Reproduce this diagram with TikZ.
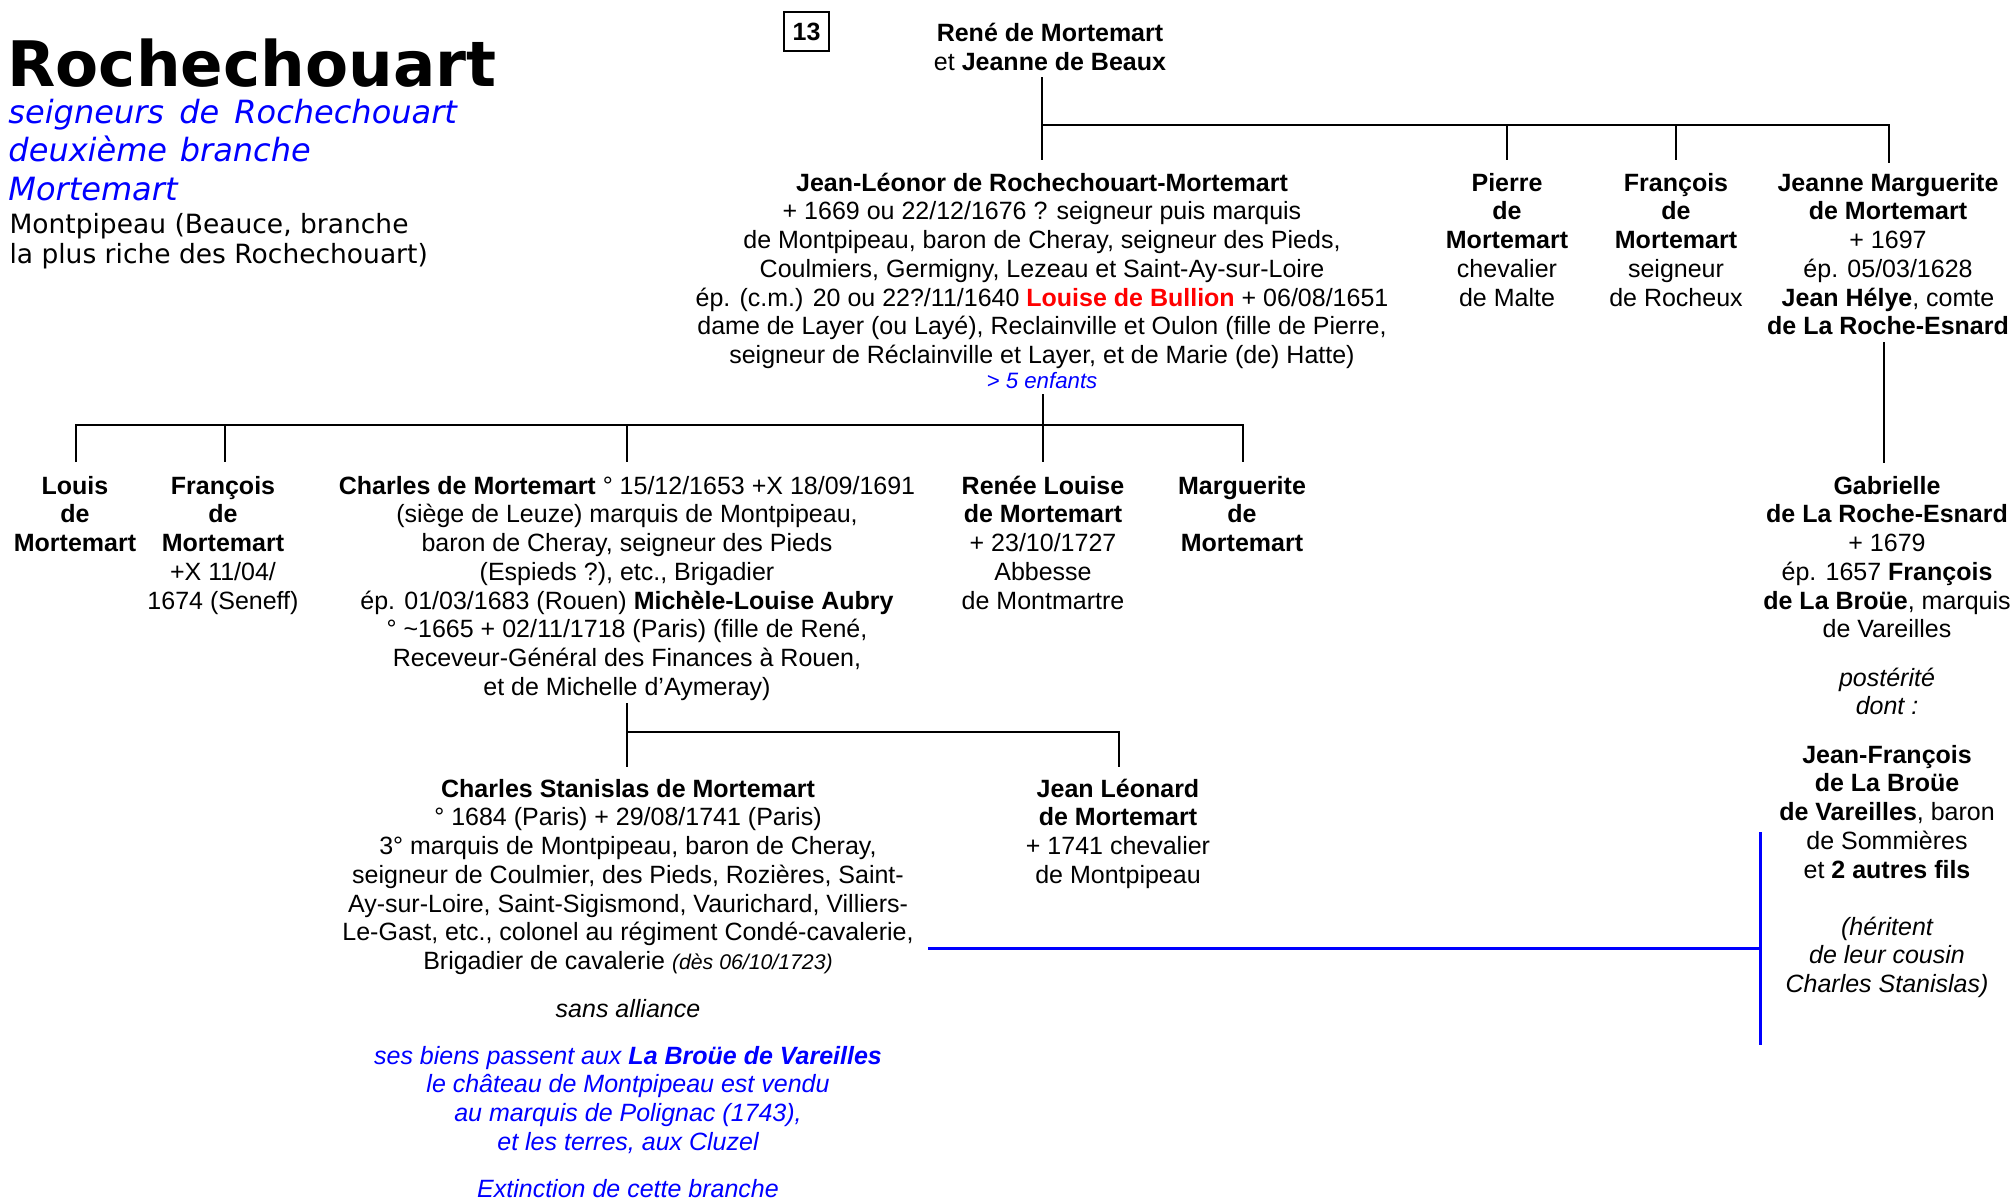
\documentclass[tikz,border=0pt]{standalone}
\usepackage{fontspec}
\setmainfont{Liberation Sans}
\newfontfamily\verd{DejaVu Sans}
\begin{document}
\begin{tikzpicture}[x=0.4pt,y=-0.4pt,
  txt/.style={align=center, anchor=base, inner sep=0pt, font=\fontsize{10}{11.5}\selectfont},
  small/.style={align=center, anchor=base, inner sep=0pt, font=\fontsize{8.9}{11.5}\selectfont\itshape},
  conn/.style={line width=1pt, black},
  bconn/.style={line width=1.2pt, blue},
]
\useasboundingbox (0,0) rectangle (2011,1201);

% ---- title block (anchor=base = baseline of last line)
\node (title) [anchor=base west, inner sep=0pt, font=\verd\bfseries\fontsize{25.1}{28}\selectfont] at (7,86) {Rochechouart};
\node (sub) [anchor=base west, inner sep=0pt, align=left, text=blue, font=\verd\itshape\fontsize{12.8}{15.4}\selectfont] at (8,200) {seigneurs\hspace{2pt} de\hspace{2pt} Rochechouart\\deuxième\hspace{1pt} branche\\Mortemart};
\node (subb) [anchor=base west, inner sep=0pt, align=left, font=\verd\fontsize{10.6}{12}\selectfont] at (9,263) {Montpipeau (Beauce, branche\\la plus riche des Rochechouart)};

\node (num) [draw, line width=0.8pt, inner sep=0pt, minimum width=18pt, minimum height=15.6pt, font=\bfseries\fontsize{10}{11.5}\selectfont] at (806.5,31.5) {13};

% ---- generation 1
\node (rene) [txt] at (1050,70) {\textbf{René de Mortemart}\\et \textbf{Jeanne de Beaux}};

% ---- generation 2
\node (jl) [txt] at (1042,363.5) {\textbf{Jean-Léonor de Rochechouart-Mortemart}\\+ 1669 ou 22/12/1676 ? seigneur puis marquis\\de Montpipeau, baron de Cheray, seigneur des Pieds,\\Coulmiers, Germigny, Lezeau et Saint-Ay-sur-Loire\\ép. (c.m.) 20 ou 22?/11/1640 \textcolor{red}{\textbf{Louise de Bullion}} + 06/08/1651\\dame de Layer (ou Layé), Reclainville et Oulon (fille de Pierre,\\seigneur de Réclainville et Layer, et de Marie (de) Hatte)};
\node (enf) [small, text=blue] at (1042,388) {> 5 enfants};
\node (pierre) [txt] at (1507,306) {\textbf{Pierre}\\\textbf{de}\\\textbf{Mortemart}\\chevalier\\de Malte};
\node (franc) [txt] at (1676,306) {\textbf{François}\\\textbf{de}\\\textbf{Mortemart}\\seigneur\\de Rocheux};
\node (jeanne) [txt] at (1888,334.75) {\textbf{Jeanne Marguerite}\\\textbf{de Mortemart}\\+ 1697\\ép. 05/03/1628\\\textbf{Jean Hélye}, comte\\\textbf{de La Roche-Esnard}};

% ---- generation 3
\node (louis) [txt] at (75,551.5) {\textbf{Louis}\\\textbf{de}\\\textbf{Mortemart}};
\node (franc2) [txt] at (223,609) {\textbf{François}\\\textbf{de}\\\textbf{Mortemart}\\+X 11/04/\\1674 (Seneff)};
\node (charles) [txt] at (627,695.25) {\textbf{Charles de Mortemart} ° 15/12/1653 +X 18/09/1691\\(siège de Leuze) marquis de Montpipeau,\\baron de Cheray, seigneur des Pieds\\(Espieds ?), etc., Brigadier\\ép. 01/03/1683 (Rouen) \textbf{Michèle-Louise Aubry}\\° \textasciitilde1665 + 02/11/1718 (Paris) (fille de René,\\Receveur-Général des Finances à Rouen,\\et de Michelle d’Aymeray)};
\node (renee) [txt] at (1043,609) {\textbf{Renée Louise}\\\textbf{de Mortemart}\\+ 23/10/1727\\Abbesse\\de Montmartre};
\node (marg) [txt] at (1242,551.5) {\textbf{Marguerite}\\\textbf{de}\\\textbf{Mortemart}};
\node (gab) [txt] at (1887,637.75) {\textbf{Gabrielle}\\\textbf{de La Roche-Esnard}\\+ 1679\\ép. 1657 \textbf{François}\\\textbf{de La Broüe}, marquis\\de Vareilles};
\node (post) [txt, font=\fontsize{10}{11.5}\selectfont\itshape] at (1887,714.75) {postérité\\dont :};
\node (jf) [txt] at (1887,878) {\textbf{Jean-François}\\\textbf{de La Broüe}\\\textbf{de Vareilles}, baron\\de Sommières\\et \textbf{2 autres fils}};
\node (her) [txt, font=\fontsize{10}{11.5}\selectfont\itshape] at (1887,992.5) {(héritent\\de leur cousin\\Charles Stanislas)};

% ---- generation 4
\node (cs) [txt] at (628,969.5) {\textbf{Charles Stanislas de Mortemart}\\° 1684 (Paris) + 29/08/1741 (Paris)\\3° marquis de Montpipeau, baron de Cheray,\\seigneur de Coulmier, des Pieds, Rozières, Saint-\\Ay-sur-Loire, Saint-Sigismond, Vaurichard, Villiers-\\Le-Gast, etc., colonel au régiment Condé-cavalerie,\\Brigadier de cavalerie {\fontsize{8.5}{11.5}\selectfont\itshape (dès 06/10/1723)}};
\node (sans) [txt, font=\fontsize{10}{11.5}\selectfont\itshape] at (628,1017) {sans alliance};
\node (biens) [txt, text=blue, font=\fontsize{10}{11.5}\selectfont\itshape] at (628,1150.25) {ses biens passent aux \textbf{La Broüe de Vareilles}\\le château de Montpipeau est vendu\\au marquis de Polignac (1743),\\et les terres, aux Cluzel};
\node (ext) [txt, text=blue, font=\fontsize{10}{11.5}\selectfont\itshape] at (628,1197) {Extinction de cette branche};
\node (jleo) [txt] at (1118,883.25) {\textbf{Jean Léonard}\\\textbf{de Mortemart}\\+ 1741 chevalier\\de Montpipeau};

% ---- connectors
\coordinate (t0) at (1042,77);
\coordinate (t1) at (1042,125);
\coordinate (t2) at (1042,160);
\coordinate (tp1) at (1507,125);
\coordinate (tp2) at (1507,160);
\coordinate (tf1) at (1676,125);
\coordinate (tf2) at (1676,160);
\coordinate (tj1) at (1889,125);
\coordinate (tj2) at (1889,163);
\draw[conn] (t0) -- (t2);
\draw[conn] (t1) -- (tj1) -- (tj2);
\draw[conn] (tp1) -- (tp2);
\draw[conn] (tf1) -- (tf2);

\coordinate (m0) at (1043,394);
\coordinate (m2) at (1043,462);
\coordinate (hl) at (76,425);
\coordinate (hr) at (1243,425);
\coordinate (dl) at (76,462);
\coordinate (dr) at (1243,462);
\coordinate (f1) at (225,425);
\coordinate (f2) at (225,462);
\coordinate (c1) at (627,425);
\coordinate (c2) at (627,462);
\draw[conn] (m0) -- (m2);
\draw[conn] (dl) -- (hl) -- (hr) -- (dr);
\draw[conn] (f1) -- (f2);
\draw[conn] (c1) -- (c2);

\coordinate (s0) at (627,703);
\coordinate (s1) at (627,732);
\coordinate (s2) at (627,767);
\coordinate (s3) at (1119,732);
\coordinate (s4) at (1119,767);
\draw[conn] (s0) -- (s2);
\draw[conn] (s1) -- (s3) -- (s4);

\coordinate (g0) at (1884,342);
\coordinate (g1) at (1884,463);
\draw[conn] (g0) -- (g1);

\coordinate (b0) at (928,948);
\coordinate (b1) at (1760,948);
\coordinate (b2) at (1760,832);
\coordinate (b3) at (1760,1045);
\draw[bconn] (b0) -- (b1);
\draw[bconn] (b2) -- (b3);
\end{tikzpicture}
\end{document}
